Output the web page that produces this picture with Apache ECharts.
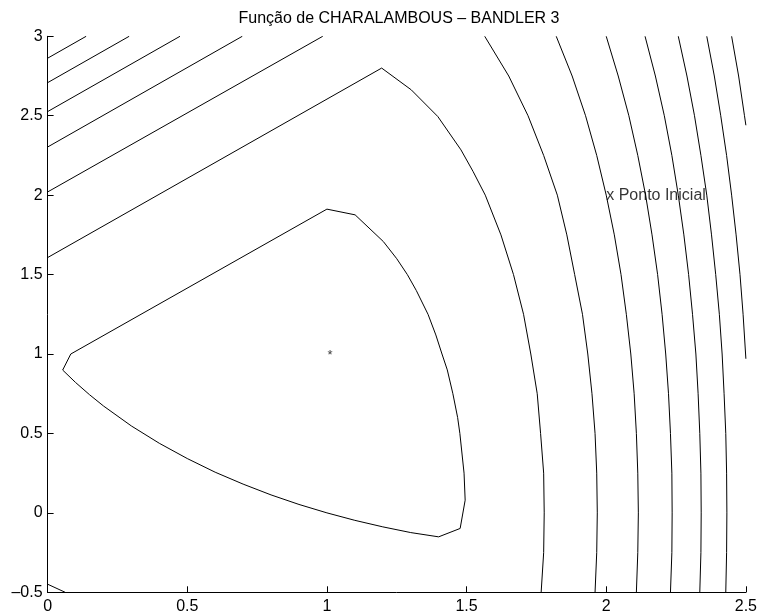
<!DOCTYPE html>
<html>
<head>
<meta charset="utf-8">
<script src="https://cdn.jsdelivr.net/npm/echarts@6/dist/echarts.min.js"></script>
<style>
  html, body { margin: 0; padding: 0; background: #fff; }
  #chart { width: 760px; height: 616px; }
</style>
</head>
<body>
<div id="chart"></div>
<script>
// contour lines, [x, y] points
const c5 = [[0.083, 1.0], [1.0, 1.912], [1.101, 1.876], [1.202, 1.708], [1.25, 1.6], [1.288, 1.5],
  [1.32, 1.4], [1.362, 1.25], [1.39, 1.12], [1.412, 1.0], [1.431, 0.9], [1.451, 0.75], [1.468, 0.6],
  [1.476, 0.5], [1.491, 0.25], [1.495, 0.08], [1.477, -0.098], [1.40, -0.151], [1.3, -0.124],
  [1.2, -0.088], [1.1, -0.047], [1.0, 0.0], [0.9, 0.053], [0.8, 0.113], [0.7, 0.181], [0.6, 0.256],
  [0.5, 0.342], [0.4, 0.438], [0.3, 0.547], [0.2, 0.673], [0.15, 0.744], [0.1, 0.821],
  [0.054, 0.899], [0.083, 1.0]];
const c10 = [[0, 1.607], [1.196, 2.80], [1.302, 2.663], [1.397, 2.495], [1.48, 2.285], [1.523, 2.15],
  [1.567, 2.0], [1.623, 1.75], [1.668, 1.5], [1.704, 1.25], [1.73, 1.0], [1.753, 0.75], [1.765, 0.5],
  [1.776, 0.25], [1.778, 0], [1.776, -0.25], [1.767, -0.5]];
const c10corner = [[0, -0.449], [0.063, -0.5]];
const c15left = [[0, 2.02], [0.985, 3]];
const c15 = [[1.565, 3], [1.651, 2.75], [1.72, 2.5], [1.776, 2.25], [1.825, 2.0], [1.859, 1.75],
  [1.887, 1.5], [1.915, 1.25], [1.934, 1.0], [1.949, 0.75], [1.96, 0.5], [1.966, 0.25], [1.968, 0],
  [1.966, -0.25], [1.96, -0.5]];
const c20left = [[0, 2.303], [0.697, 3]];
const c20 = [[1.821, 3], [1.878, 2.75], [1.926, 2.5], [1.966, 2.25], [2.0, 2.0], [2.029, 1.75],
  [2.053, 1.5], [2.072, 1.25], [2.088, 1.0], [2.1, 0.75], [2.108, 0.5], [2.113, 0.25], [2.115, 0],
  [2.113, -0.25], [2.108, -0.5]];
const c25left = [[0, 2.526], [0.474, 3]];
const c25 = [[2.0, 3], [2.043, 2.75], [2.081, 2.5], [2.113, 2.25], [2.141, 2.0], [2.164, 1.75],
  [2.184, 1.5], [2.2, 1.25], [2.213, 1.0], [2.223, 0.75], [2.23, 0.5], [2.235, 0.25], [2.236, 0],
  [2.235, -0.25], [2.23, -0.5]];
const c30left = [[0, 2.708], [0.292, 3]];
const c30 = [[2.139, 3], [2.176, 2.75], [2.208, 2.5], [2.235, 2.25], [2.258, 2.0], [2.278, 1.75],
  [2.295, 1.5], [2.309, 1.25], [2.321, 1.0], [2.329, 0.75], [2.335, 0.5], [2.339, 0.25], [2.34, 0],
  [2.339, -0.25], [2.335, -0.5]];
const c35left = [[0, 2.862], [0.138, 3]];
const c35 = [[2.258, 3], [2.289, 2.75], [2.316, 2.5], [2.339, 2.25], [2.36, 2.0], [2.377, 1.75],
  [2.392, 1.5], [2.405, 1.25], [2.415, 1.0], [2.422, 0.75], [2.428, 0.5], [2.431, 0.25], [2.432, 0],
  [2.431, -0.25], [2.428, -0.5]];
const c40 = [[2.36, 3], [2.387, 2.75], [2.41, 2.5], [2.431, 2.25], [2.449, 2.0], [2.465, 1.75],
  [2.479, 1.5], [2.49, 1.25], [2.5, 0.97]];
const c45 = [[2.449, 3], [2.474, 2.75], [2.495, 2.5], [2.5, 2.44]];

const optimum = [[1, 1]];
const startPoint = [[2, 2]];

const contours = [c5, c10, c10corner, c15left, c15, c20left, c20, c25left, c25,
  c30left, c30, c35left, c35, c40, c45];

const FONT = '"Liberation Sans", Arial, Helvetica, sans-serif';

const chart = echarts.init(document.getElementById('chart'), null, { renderer: 'canvas' });

const series = contours.map((pts) => ({
  type: 'line',
  data: pts,
  showSymbol: false,
  symbol: 'none',
  silent: true,
  lineStyle: { color: '#000', width: 1 },
}));

series.push({
  type: 'scatter',
  data: optimum,
  symbolSize: 0,
  silent: true,
  label: {
    show: true,
    position: 'inside',
    offset: [3, 1],
    formatter: '*',
    color: '#000',
    fontSize: 13,
    fontFamily: FONT,
  },
});

series.push({
  type: 'scatter',
  data: startPoint,
  symbolSize: 0,
  silent: true,
  label: {
    show: true,
    position: 'right',
    distance: 0,
    formatter: 'x Ponto Inicial',
    color: '#000',
    fontSize: 16,
    fontFamily: FONT,
  },
});

chart.setOption({
  animation: false,
  backgroundColor: '#fff',
  title: {
    text: 'Função de CHARALAMBOUS – BANDLER 3',
    left: 399,
    top: 11,
    textAlign: 'center',
    padding: 0,
    textStyle: { color: '#000', fontSize: 16, fontWeight: 'normal', fontFamily: FONT },
  },
  grid: { left: 47.6, right: 10, top: 36.3, bottom: 23.7 },
  xAxis: {
    type: 'value',
    min: 0,
    max: 2.5,
    interval: 0.5,
    axisLine: { show: true, onZero: false, lineStyle: { color: '#000', width: 1 } },
    axisTick: { show: true, inside: true, length: 6, lineStyle: { color: '#000' } },
    axisLabel: { color: '#000', fontSize: 16, fontFamily: FONT, margin: 6 },
    splitLine: { show: false },
  },
  yAxis: {
    type: 'value',
    min: -0.5,
    max: 3,
    interval: 0.5,
    axisLine: { show: true, onZero: false, lineStyle: { color: '#000', width: 1 } },
    axisTick: { show: true, inside: true, length: 6, lineStyle: { color: '#000' } },
    axisLabel: {
      color: '#000',
      fontSize: 16,
      fontFamily: FONT,
      margin: 5,
      formatter: (v) => (v < 0 ? '\u2013' + (-v) : String(v)),
    },
    splitLine: { show: false },
  },
  series: series,
});
</script>
</body>
</html>
